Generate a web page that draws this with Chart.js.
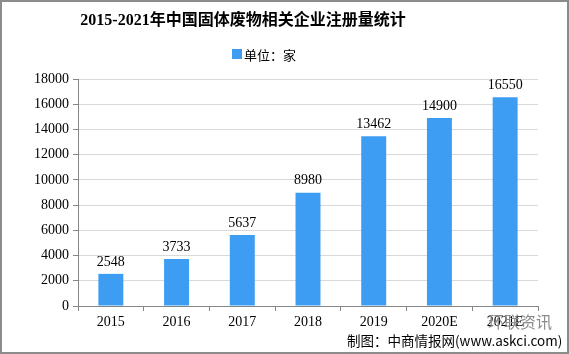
<!DOCTYPE html>
<html>
<head>
<meta charset="utf-8">
<script src="https://cdn.jsdelivr.net/npm/chart.js@4/dist/chart.umd.min.js"></script>
<style>
  html, body { margin: 0; padding: 0; background: #fff; }
  #wrap { width: 569px; height: 354px; position: relative; }
</style>
</head>
<body>
<div id="wrap"><canvas id="c" width="569" height="354"></canvas></div>
<script>
// 2015-2021 solid-waste enterprise registrations
const years = ['2015', '2016', '2017', '2018', '2019', '2020E', '2021E'];
const counts = [2548, 3733, 5637, 8980, 13462, 14900, 16550];
const yTicks = [0, 2000, 4000, 6000, 8000, 10000, 12000, 14000, 16000, 18000];

const titleText = '2015-2021年中国固体废物相关企业注册量统计';
const seriesName = '单位：家';
const sourceText = '制图：中商情报网(www.askci.com)';

const BAR = '#3d9df2';
const SERIF = '"Liberation Serif", "Noto Sans CJK SC", serif';

const decor = {
  id: 'decor',
  afterDatasetsDraw(chart) {
    const ctx = chart.ctx;
    const meta = chart.getDatasetMeta(0);
    ctx.save();
    // value labels
    ctx.fillStyle = '#000';
    ctx.font = '14px ' + SERIF;
    ctx.textAlign = 'center';
    ctx.textBaseline = 'bottom';
    meta.data.forEach((bar, i) => {
      ctx.fillText(String(counts[i]), bar.x, bar.y - 5);
    });
    ctx.restore();
  },
  afterDraw(chart) {
    const ctx = chart.ctx;
    ctx.save();
    // title
    ctx.fillStyle = '#000';
    ctx.font = 'bold 16px ' + SERIF;
    ctx.textAlign = 'center';
    ctx.textBaseline = 'middle';
    ctx.fillText(titleText, 243, 21);
    // legend
    ctx.fillStyle = BAR;
    ctx.fillRect(232, 49, 10, 10);
    ctx.fillStyle = '#000';
    ctx.font = '13px "Noto Sans CJK SC", sans-serif';
    ctx.textAlign = 'left';
    ctx.fillText(chart.data.datasets[0].label, 244, 55);
    // watermark-ish account name
    ctx.fillStyle = '#8a8a8a';
    ctx.font = '16px "Noto Sans CJK SC", sans-serif';
    ctx.fillText('环联资讯', 488, 322);
    // source
    ctx.fillStyle = '#000';
    ctx.font = '13.5px "Noto Sans CJK SC", sans-serif';
    ctx.fillText(sourceText, 347, 341);
    // frame
    ctx.strokeStyle = '#8c8c8c';
    ctx.lineWidth = 2;
    ctx.strokeRect(1, 1, 567, 352);
    ctx.restore();
  }
};

new Chart(document.getElementById('c'), {
  type: 'bar',
  data: {
    labels: years,
    datasets: [{
      label: seriesName,
      data: counts,
      backgroundColor: BAR,
      barPercentage: 0.76,
      categoryPercentage: 0.5,
    }],
  },
  options: {
    responsive: false,
    animation: false,
    layout: { padding: { left: 0, right: 31, top: 79, bottom: 0 } },
    plugins: { legend: { display: false }, title: { display: false }, tooltip: { enabled: false } },
    scales: {
      x: {
        afterFit(s) { s.height = 48; },
        grid: { display: true, drawOnChartArea: false, drawTicks: true, tickLength: 5, color: '#868686' },
        border: { color: '#868686' },
        ticks: { color: '#000', font: { family: SERIF, size: 14 }, padding: 3 },
      },
      y: {
        min: 0, max: 18000,
        afterFit(s) { s.width = 78; },
        afterBuildTicks(s) { s.ticks = yTicks.map(v => ({ value: v })); },
        grid: { color: '#d9d9d9', tickColor: '#868686', tickLength: 5 },
        border: { color: '#868686' },
        ticks: { color: '#000', font: { family: SERIF, size: 14 }, padding: 4, callback: v => String(v) },
      },
    },
  },
  plugins: [decor],
});
</script>
</body>
</html>
